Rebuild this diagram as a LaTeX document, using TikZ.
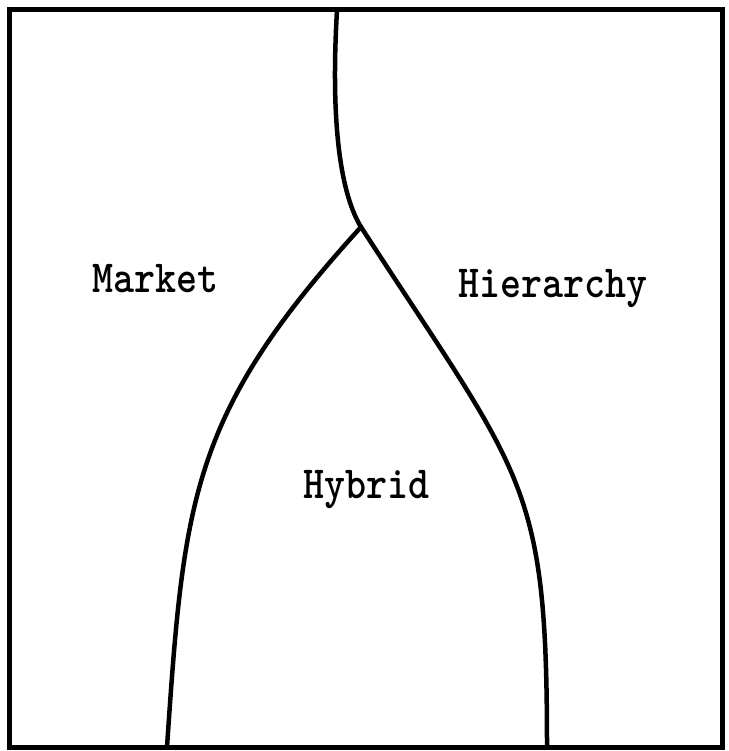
\documentclass[tikz,border=0pt]{standalone}
\usepackage{graphicx}
\usetikzlibrary{positioning}
\newcommand{\tallname}[1]{\scalebox{1}[1.15]{#1}}

\begin{document}
\begin{tikzpicture}[
  x=1pt,y=-1pt,
  region/.style={font=\ttfamily\bfseries\fontsize{40}{44}\selectfont,anchor=base,inner sep=0pt},
  frame/.style={draw,line width=5pt},
  border/.style={line width=4.5pt,line cap=round,line join=round}
]
\useasboundingbox (0,0) rectangle (728,751);
\draw[frame] (9.5,10) rectangle (722,747);
\coordinate (top) at (337,10);
\coordinate (fork) at (361,227);
\coordinate (leftfoot) at (167,747);
\coordinate (rightfoot) at (547,747);
\node[region] (market) at (155,292) {\tallname{Market}};
\node[region] (hierarchy) at (553,297) {\tallname{Hierarchy}};
\node[region] (hybrid) at (366,498) {\tallname{Hybrid}};
% market / hierarchy divide running into the hybrid edge
\draw[border] (top) .. controls (330,130) and (342,196) .. (fork)
  .. controls (523,477) and (547,480) .. (rightfoot);
\draw[border] (fork) .. controls (191,414) and (184,497) .. (leftfoot);
\end{tikzpicture}
\end{document}
